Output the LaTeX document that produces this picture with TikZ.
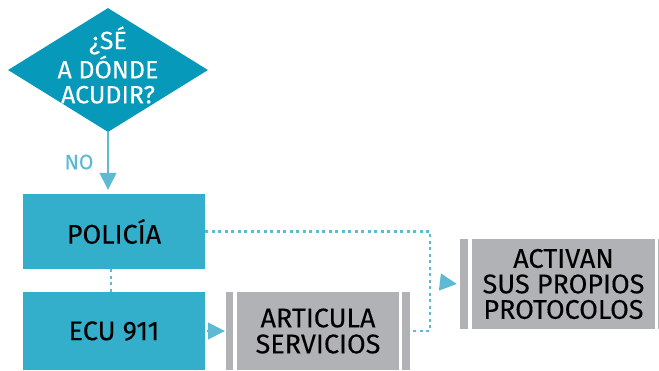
\documentclass[tikz,border=0pt]{standalone}
\usepackage{fontspec}
\setmainfont{Fira Sans}[FakeBold=0.15]
\usepackage{xcolor}
\usepackage{tikz}
\usetikzlibrary{shapes.geometric,arrows.meta}
\definecolor{ecuteal}{RGB}{6,153,186}
\definecolor{ecublue}{RGB}{51,174,203}
\definecolor{ecusky}{RGB}{94,185,210}
\definecolor{ecugray}{RGB}{176,178,181}

\begin{document}
\begin{tikzpicture}[x=1pt,y=-1pt,
  caja/.style={fill=ecublue, minimum width=182pt, inner sep=0pt, align=center},
  gris/.style={fill=ecugray, inner sep=0pt, align=center},
  barra/.style={fill=ecugray},
  punteado/.style={ecusky, line width=2.8pt, dash pattern=on 3pt off 3.5pt},
  punta/.style={ecusky, line width=1.5pt, -{Triangle[length=17pt,width=17pt]}}]
\useasboundingbox (0,0) rectangle (659,370);

\node[diamond, fill=ecuteal, minimum width=200pt, minimum height=124pt, inner sep=0pt] (preg) at (108,70) {};
\node[text=white, align=center, font=\fontsize{25}{25}\selectfont] (pregtxt) at (108,65) {¿SÉ\\A DÓNDE\\ACUDIR?};

\node[caja, minimum height=75pt, font=\fontsize{27}{28}\selectfont] (pol) at (114,231.5) {POLICÍA};
\node[caja, minimum height=78pt, font=\fontsize{27}{30}\selectfont] (ecu) at (114,331) {ECU 911};

\node[gris, minimum width=162pt, minimum height=78pt, font=\fontsize{27}{26}\selectfont] (art) at (318,331) {ARTICULA\\SERVICIOS};
\fill[barra] ([xshift=-11pt]art.north west) rectangle ([xshift=-4pt]art.south west);
\fill[barra] ([xshift=3pt]art.north east) rectangle ([xshift=11pt]art.south east);
\coordinate (artder) at ([xshift=11pt]art.east);
\coordinate (artizq) at ([xshift=-11pt]art.west);

\node[gris, minimum width=183pt, minimum height=90pt, font=\fontsize{27}{25.5}\selectfont] (act) at (563.5,284) {ACTIVAN\\SUS PROPIOS\\PROTOCOLOS};
\fill[barra] ([xshift=-12pt]act.north west) rectangle ([xshift=-4pt]act.south west);
\fill[barra] ([xshift=3pt]act.north east) rectangle ([xshift=11pt]act.south east);
\coordinate (actizq) at ([xshift=-15pt]act.west);
\coordinate (codo) at (430,331);
\coordinate (flecha) at (440,282);

\draw[punta, shorten >=4pt] (preg.south) -- (preg.south |- pol.north);
\node[text=ecusky, font=\fontsize{21}{22}\selectfont] (no) at (79,162) {NO};
\draw[punteado] ([xshift=-3pt]pol.south) -- ([xshift=-3pt]ecu.north);
\draw[punteado] (pol.east) -| (codo) -- (artder);
\draw[punta, shorten <=2pt] (ecu.east) -- ([xshift=-1pt]artizq);
\draw[punta] (flecha) -- (actizq);
\end{tikzpicture}
\end{document}
